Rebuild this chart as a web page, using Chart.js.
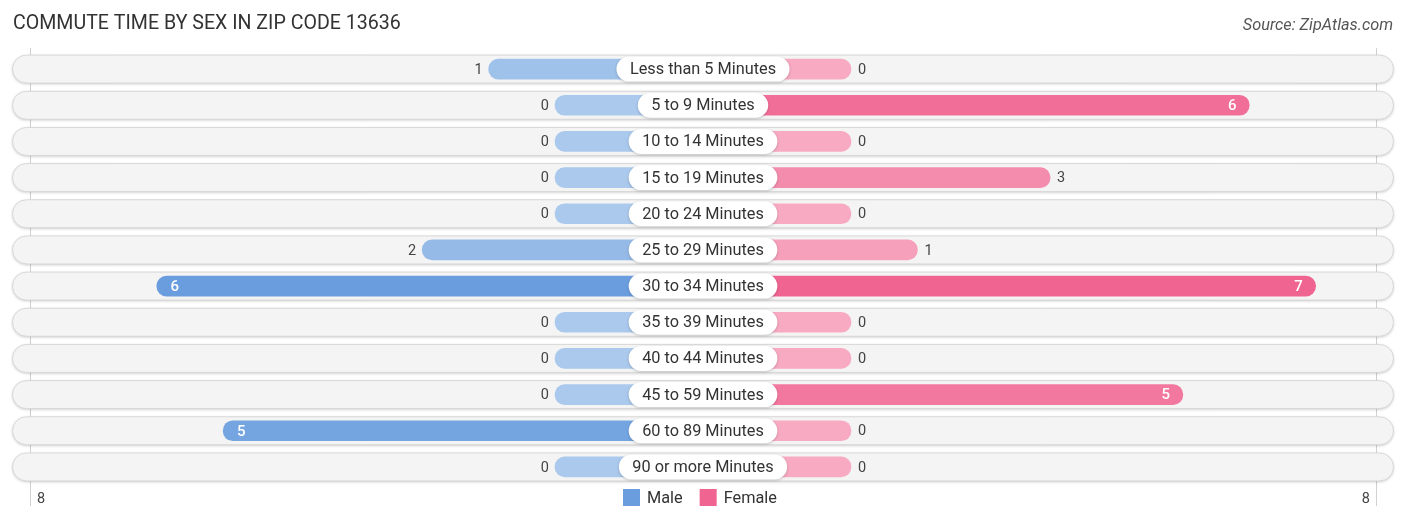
<!DOCTYPE html>
<html>
<head>
<meta charset="utf-8">
<script src="https://cdn.jsdelivr.net/npm/chart.js@4"></script>
<style>
  html, body { margin: 0; padding: 0; background: #fff; }
  #wrap { width: 1406px; height: 523px; position: relative; }
</style>
</head>
<body>
<div id="wrap"><canvas id="chart" width="1406" height="523"></canvas></div>
<script>
const categories = [
  "Less than 5 Minutes", "5 to 9 Minutes", "10 to 14 Minutes", "15 to 19 Minutes",
  "20 to 24 Minutes", "25 to 29 Minutes", "30 to 34 Minutes", "35 to 39 Minutes",
  "40 to 44 Minutes", "45 to 59 Minutes", "60 to 89 Minutes", "90 or more Minutes"
];
const maleValues = [1, 0, 0, 0, 0, 2, 6, 0, 0, 0, 5, 0];
const femaleValues = [0, 6, 0, 3, 0, 1, 7, 0, 0, 5, 0, 0];
const axisLabels = ["8", "8"];

// bars start behind the centre label, so every bar gets a fixed extra length
const OFF = 2.23;
const LIMIT = 10.14;
const FONT = "Roboto, 'Noto Sans', sans-serif";

function mix(a, b, t) {
  const c = a.map((x, i) => Math.round(x + (b[i] - x) * t));
  return `rgb(${c[0]},${c[1]},${c[2]})`;
}
const maleColor = v => mix([170, 201, 236], [95, 150, 220], v / 7);
const femaleColor = v => mix([247, 170, 194], [240, 100, 145], v / 7);

function pill(ctx, x, y, w, h) {
  const r = h / 2;
  ctx.beginPath();
  ctx.moveTo(x + r, y);
  ctx.lineTo(x + w - r, y);
  ctx.arc(x + w - r, y + r, r, -Math.PI / 2, Math.PI / 2);
  ctx.lineTo(x + r, y + h);
  ctx.arc(x + r, y + r, r, Math.PI / 2, Math.PI * 1.5);
  ctx.closePath();
}

const decor = {
  id: "decor",
  beforeDatasetsDraw(chart) {
    const { ctx, chartArea, scales } = chart;
    ctx.save();
    // grid lines at the axis ends
    ctx.strokeStyle = "#d0d0d0";
    ctx.lineWidth = 1;
    [chartArea.left, chartArea.right].forEach(x => {
      ctx.beginPath();
      ctx.moveTo(Math.round(x) + 0.5, 48);
      ctx.lineTo(Math.round(x) + 0.5, 506);
      ctx.stroke();
    });
    // row backgrounds
    categories.forEach((c, i) => {
      const y = scales.y.getPixelForValue(i);
      ctx.save();
      ctx.shadowColor = "rgba(0,0,0,0.22)";
      ctx.shadowBlur = 3;
      ctx.shadowOffsetY = 1;
      pill(ctx, 12.5, y - 14, 1381, 28);
      ctx.fillStyle = "#f4f4f4";
      ctx.fill();
      ctx.restore();
      pill(ctx, 12.5, y - 14, 1381, 28);
      ctx.strokeStyle = "#d8d8d8";
      ctx.stroke();
    });
    ctx.restore();
  },
  afterDatasetsDraw(chart) {
    const { ctx, chartArea, scales } = chart;
    const cx = scales.x.getPixelForValue(0);
    ctx.save();
    ctx.textBaseline = "middle";
    categories.forEach((c, i) => {
      const y = scales.y.getPixelForValue(i);
      // values
      const m = maleValues[i], f = femaleValues[i];
      const mx = scales.x.getPixelForValue(-(m + OFF));
      const fx = scales.x.getPixelForValue(f + OFF);
      if (m >= 5) {
        ctx.font = "500 15px " + FONT; ctx.fillStyle = "#fff"; ctx.textAlign = "center";
        ctx.fillText(String(m), mx + 18, y + 1);
      } else {
        ctx.font = "14.5px " + FONT; ctx.fillStyle = "#444"; ctx.textAlign = "right";
        ctx.fillText(String(m), mx - 6, y + 1);
      }
      if (f >= 5) {
        ctx.font = "500 15px " + FONT; ctx.fillStyle = "#fff"; ctx.textAlign = "center";
        ctx.fillText(String(f), fx - 17, y + 1);
      } else {
        ctx.font = "14.5px " + FONT; ctx.fillStyle = "#444"; ctx.textAlign = "left";
        ctx.fillText(String(f), fx + 7, y + 1);
      }
      // centre label pill
      ctx.font = "16.3px " + FONT;
      const w = ctx.measureText(c).width + 27;
      ctx.save();
      ctx.shadowColor = "rgba(0,0,0,0.2)";
      ctx.shadowBlur = 3;
      ctx.shadowOffsetY = 1;
      pill(ctx, cx - w / 2, y - 12.5, w, 25);
      ctx.fillStyle = "#fff";
      ctx.fill();
      ctx.restore();
      ctx.fillStyle = "#333";
      ctx.textAlign = "center";
      ctx.fillText(c, cx, y + 1);
    });

    // title and source
    ctx.textBaseline = "alphabetic";
    ctx.font = "19.6px " + FONT;
    ctx.fillStyle = "#333";
    ctx.textAlign = "left";
    ctx.fillText("COMMUTE TIME BY SEX IN ZIP CODE 13636", 13, 29);
    ctx.font = "italic 16.3px " + FONT;
    ctx.fillStyle = "#555";
    ctx.textAlign = "right";
    ctx.fillText("Source: ZipAtlas.com", 1393, 30);

    // axis end labels
    ctx.font = "14.5px " + FONT;
    ctx.fillStyle = "#444";
    ctx.textAlign = "left";
    ctx.fillText(axisLabels[0], chartArea.left + 7, 503);
    ctx.textAlign = "right";
    ctx.fillText(axisLabels[1], chartArea.right - 6, 503);

    // legend
    const items = [["Male", maleColor(6)], ["Female", femaleColor(7)]];
    let x = 623;
    ctx.font = "16.3px " + FONT;
    ctx.textAlign = "left";
    ctx.textBaseline = "middle";
    items.forEach(([name, col]) => {
      ctx.fillStyle = col;
      ctx.fillRect(x, 489, 17, 17);
      ctx.fillStyle = "#333";
      ctx.fillText(name, x + 24, 498.5);
      x += 24 + ctx.measureText(name).width + 17;
    });
    ctx.restore();
  }
};

new Chart(document.getElementById("chart"), {
  type: "bar",
  data: {
    labels: categories,
    datasets: [
      {
        label: "Male",
        data: maleValues.map(v => [-(v + OFF), 0]),
        backgroundColor: maleValues.map(maleColor),
        borderRadius: 10,
        borderSkipped: false,
        barThickness: 20,
        grouped: false
      },
      {
        label: "Female",
        data: femaleValues.map(v => [0, v + OFF]),
        backgroundColor: femaleValues.map(femaleColor),
        borderRadius: 10,
        borderSkipped: false,
        barThickness: 20,
        grouped: false
      }
    ]
  },
  options: {
    indexAxis: "y",
    responsive: false,
    animation: false,
    devicePixelRatio: 1,
    layout: { padding: { left: 30, right: 30, top: 51, bottom: 38 } },
    plugins: { legend: { display: false }, tooltip: { enabled: false } },
    scales: {
      x: { min: -LIMIT, max: LIMIT, display: false },
      y: { display: false, offset: true }
    }
  },
  plugins: [decor]
});
</script>
</body>
</html>
